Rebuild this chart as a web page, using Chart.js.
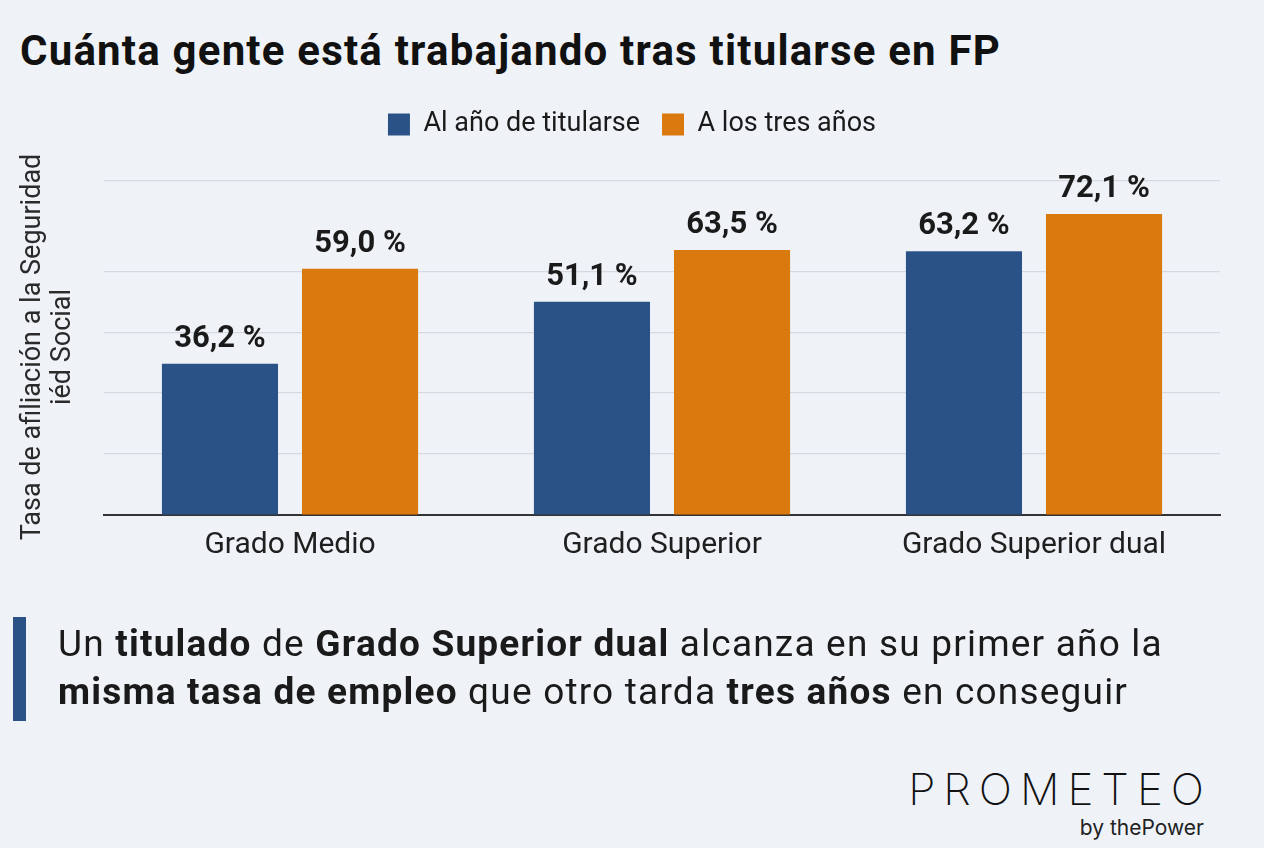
<!DOCTYPE html>
<html>
<head>
<meta charset="utf-8">
<script src="https://cdn.jsdelivr.net/npm/chart.js@4.4.1/dist/chart.umd.min.js"></script>
<style>
  html, body { margin: 0; padding: 0; }
  body { width: 1264px; height: 848px; background: #eff3f8; position: relative; overflow: hidden; font-family: Roboto, "Noto Sans", sans-serif; color: #1a1a1a; }
  #title { position: absolute; left: 20px; top: 26px; font-size: 42px; font-weight: 700; color: #111; white-space: nowrap; letter-spacing: 1.2px; line-height: 50px; }
  #wrap { position: absolute; left: 0; top: 89px; width: 1264px; height: 490px; }
  #ytitle { position: absolute; left: 46px; top: 347px; width: 420px; height: 60px; transform: translate(-50%, -50%) rotate(-90deg); text-align: center; font-size: 27px; line-height: 30px; color: #2a2a2a; white-space: nowrap; }
  #bar { position: absolute; left: 13px; top: 617px; width: 13px; height: 104px; background: #2b5286; }
  #note { position: absolute; left: 58px; top: 620px; font-size: 37px; line-height: 48px; letter-spacing: 1.2px; color: #1a1a1a; white-space: nowrap; }
  #note b { font-weight: 700; }
  #logo { position: absolute; right: 60px; top: 763px; text-align: right; }
  #logo .big { font-family: Inter, Roboto, sans-serif; font-weight: 200; font-size: 44px; letter-spacing: 8px; margin-right: -8px; color: #111; line-height: 52px; }
  #logo .small { font-family: Inter, Roboto, sans-serif; font-weight: 400; font-size: 21px; color: #222; line-height: 26px; }
</style>
</head>
<body>
<div id="title">Cuánta gente está trabajando tras titularse en FP</div>
<div id="wrap"><canvas id="c"></canvas></div>
<div id="ytitle">Tasa de afiliación a la Seguridad<br>iéd Social</div>
<div id="bar"></div>
<div id="note">Un <b>titulado</b> de <b>Grado Superior dual</b> alcanza en su primer año la<br><b>misma tasa de empleo</b> que otro tarda <b>tres años</b> en conseguir</div>
<div id="logo"><div class="big">PROMETEO</div><div class="small">by thePower</div></div>
<script>
const categories = ['Grado Medio', 'Grado Superior', 'Grado Superior dual'];
const seriesNames = ['Al año de titularse', 'A los tres años'];
const alAnio = [36.2, 51.1, 63.2];
const tresAnios = [59.0, 63.5, 72.1];
const gridTicks = [0, 14.6, 29.2, 43.8, 58.4, 80];

const BLUE = '#2b5286';
const ORANGE = '#d9790e';

function fmt(v) { return v.toFixed(1).replace('.', ',') + ' %'; }

const valueLabels = {
  id: 'valueLabels',
  afterDatasetsDraw(chart) {
    const ctx = chart.ctx;
    ctx.save();
    ctx.font = 'bold 31px Roboto, sans-serif';
    ctx.fillStyle = '#1a1a1a';
    ctx.textAlign = 'center';
    ctx.textBaseline = 'alphabetic';
    chart.data.datasets.forEach((ds, di) => {
      chart.getDatasetMeta(di).data.forEach((bar, i) => {
        ctx.fillText(fmt(ds.data[i]), bar.x, bar.y - 17);
      });
    });
    ctx.restore();
  }
};

const legendGap = {
  id: 'legendGap',
  beforeInit(chart) {
    const fit = chart.legend.fit;
    chart.legend.fit = function () {
      fit.bind(chart.legend)();
      this.height += 33;
    };
  }
};

new Chart(document.getElementById('c'), {
  type: 'bar',
  data: {
    labels: categories,
    datasets: [
      { label: seriesNames[0], data: alAnio, backgroundColor: BLUE, categoryPercentage: 0.753, barPercentage: 0.829 },
      { label: seriesNames[1], data: tresAnios, backgroundColor: ORANGE, categoryPercentage: 0.753, barPercentage: 0.829 }
    ]
  },
  options: {
    responsive: true,
    maintainAspectRatio: false,
    animation: false,
    layout: { padding: { left: 44, right: 44, top: 0, bottom: 4 } },
    plugins: {
      legend: {
        position: 'top',
        labels: {
          boxWidth: 22, boxHeight: 22, padding: 22,
          color: '#1a1a1a',
          font: { family: 'Roboto', size: 27 }
        }
      },
      tooltip: { enabled: false },
      title: { display: false }
    },
    scales: {
      x: {
        grid: { display: false, drawTicks: false },
        border: { display: true, color: '#333', width: 2 },
        ticks: { color: '#1f1f1f', font: { family: 'Roboto', size: 30 }, padding: 12 }
      },
      y: {
        min: 0, max: 80,
        afterBuildTicks(scale) { scale.ticks = gridTicks.map(v => ({ value: v })); },
        afterFit(scale) { scale.width = 60; },
        grid: { color: '#d5dae1', lineWidth: 1.2, drawTicks: false },
        border: { display: false },
        ticks: { display: false }
      }
    }
  },
  plugins: [valueLabels, legendGap]
});
</script>
</body>
</html>
